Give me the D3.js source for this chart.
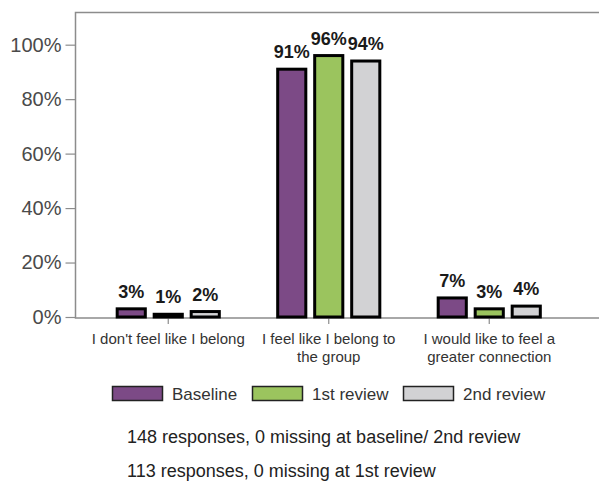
<!DOCTYPE html>
<html><head><meta charset="utf-8">
<script src="https://cdn.jsdelivr.net/npm/d3@7"></script>
<style>body{margin:0;background:#fff}svg{display:block}text{font-family:"Liberation Sans",Arial,sans-serif}</style>
</head><body>
<script>
const categories = [["I don't feel like I belong"], ["I feel like I belong to", "the group"], ["I would like to feel a", "greater connection"]];
const seriesNames = ["Baseline", "1st review", "2nd review"];
const seriesColors = ["#7c4a86", "#9bc45e", "#d2d2d4"];
const baseline = [3, 91, 7];
const review1 = [1, 96, 3];
const review2 = [2, 94, 4];
const yTicks = [0, 20, 40, 60, 80, 100];
const notes = ["148 responses, 0 missing at baseline/ 2nd review", "113 responses, 0 missing at 1st review"];

const W = 599, H = 481;
const svg = d3.select("body").append("svg").attr("width", W).attr("height", H);
const values = [baseline, review1, review2];

const x0 = d3.scaleBand().domain(d3.range(categories.length)).range([88, 569.5]).padding(0);
const x1 = d3.scaleBand().domain(d3.range(seriesNames.length)).range([-55.5, 55.5]).paddingInner(0.24).paddingOuter(0.12);
const y = d3.scaleLinear().domain([0, 112]).range([317, 12]);

// frame
const frame = svg.append("g").attr("stroke", "#8c8c8c").attr("stroke-width", 1.5).attr("fill", "none");
frame.append("path").attr("d", `M${W},12.5H75.5V318H${W}`);

// y axis
const yAxis = svg.append("g").attr("transform", "translate(75.5,0)")
  .call(d3.axisLeft(y).tickValues(yTicks).tickFormat(d => d + "%").tickSize(10).tickPadding(4));
yAxis.select(".domain").remove();
yAxis.selectAll(".tick line").attr("stroke", "#8c8c8c").attr("stroke-width", 1.2);
yAxis.selectAll(".tick text").attr("fill", "#4a4a4a").style("font-size", "20px").style("font-family", "'Liberation Sans',Arial,sans-serif");

// x axis ticks
const xAxis = svg.append("g").attr("transform", "translate(0,318)")
  .call(d3.axisBottom(x0).tickSize(6).tickFormat(""));
xAxis.select(".domain").remove();
xAxis.selectAll(".tick line").attr("stroke", "#8c8c8c").attr("stroke-width", 1.2);

// category labels
categories.forEach((lines, i) => {
  const t = svg.append("text").attr("text-anchor", "middle").attr("fill", "#333")
    .style("font-size", "15px");
  lines.forEach((l, j) => t.append("tspan").attr("x", x0(i) + x0.bandwidth() / 2).attr("y", 344 + j * 18).text(l));
});

// bars
const groups = svg.append("g").selectAll("g").data(categories).join("g")
  .attr("transform", (d, i) => `translate(${x0(i) + x0.bandwidth() / 2},0)`);
groups.each(function (d, i) {
  const g = d3.select(this);
  seriesNames.forEach((s, k) => {
    const v = values[k][i];
    g.append("rect").attr("x", x1(k)).attr("width", x1.bandwidth())
      .attr("y", y(v)).attr("height", y(0) - y(v))
      .attr("fill", seriesColors[k]).attr("stroke", "#000").attr("stroke-width", 3);
    g.append("text").attr("x", x1(k) + x1.bandwidth() / 2).attr("y", y(v) - 11)
      .attr("text-anchor", "middle").attr("fill", "#1a1a1a")
      .style("font-size", "18px").style("font-weight", "bold").text(v + "%");
  });
});

// legend
const legX = [112, 252, 403];
const leg = svg.append("g");
seriesNames.forEach((s, k) => {
  leg.append("rect").attr("x", legX[k] + 0.5).attr("y", 386.5).attr("width", 50).attr("height", 14)
    .attr("fill", seriesColors[k]).attr("stroke", "#222").attr("stroke-width", 1.5);
  leg.append("text").attr("x", legX[k] + 60).attr("y", 400).attr("fill", "#333")
    .style("font-size", "17px").text(s);
});

// notes
notes.forEach((n, i) => {
  svg.append("text").attr("x", 127).attr("y", 443 + i * 34).attr("fill", "#222")
    .style("font-size", "18px").text(n);
});
</script>
</body></html>
